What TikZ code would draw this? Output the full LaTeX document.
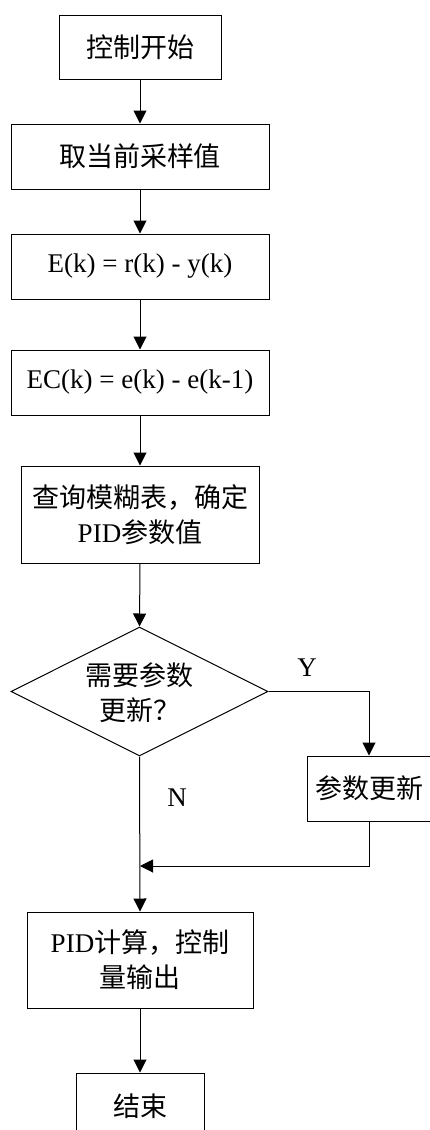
\documentclass[tikz,border=0pt]{standalone}
\usepackage{fontspec}
\setmainfont{Liberation Serif}
\newfontfamily\cjk{Noto Sans CJK SC}
\usetikzlibrary{arrows.meta,shapes.geometric}
\begin{document}
\begin{tikzpicture}[x=1pt,y=-1pt,
  txt/.style={font=\fontsize{27pt}{35pt}\selectfont, align=center, inner sep=0pt},
  box/.style={txt, draw, line width=1pt, rectangle},
  dec/.style={draw, line width=1pt, diamond, inner sep=0pt, minimum width=257pt, minimum height=129pt},
  arr/.style={line width=1pt, -{Triangle[width=13pt,length=13pt]}},
  ln/.style={line width=1pt}]
\useasboundingbox (0,0) rectangle (430,1130);
\node[box, minimum width=162pt, minimum height=64pt] (b1) at (140,47) {{\cjk 控制开始}};
\node[box, minimum width=258pt, minimum height=65pt] (b2) at (140,156.5) {{\cjk 取当前采样值}};
\node[box, minimum width=258pt, minimum height=65pt] (b3) at (140,266.5) {E(k) = r(k) - y(k)};
\node[box, minimum width=258pt, minimum height=65pt] (b4) at (140,382.5) {EC(k) = e(k) - e(k-1)};
\node[box, minimum width=238pt, minimum height=97pt] (b5) at (140,514.5) {{\cjk 查询模糊表，确定}\\PID{\cjk 参数值}};
\node[dec] (d) at (139.5,691.5) {};
\node[txt] (dt) at (139.5,693) {{\cjk 需要参数}\\{\cjk 更新？}};
\node[box, minimum width=124pt, minimum height=65pt] (up) at (369,788.5) {{\cjk 参数更新}};
\node[box, minimum width=226pt, minimum height=96pt] (pid) at (140,960) {PID{\cjk 计算，控制}\\{\cjk 量输出}};
\node[box, minimum width=128pt, minimum height=66pt] (end) at (140,1106) {{\cjk 结束}};
\node[txt] (y) at (307,668) {Y};
\node[txt] (n) at (177,798) {N};
\coordinate (j) at (140,866);
\draw[arr] (b1) -- (b2);
\draw[arr] (b2) -- (b3);
\draw[arr] (b3) -- (b4);
\draw[arr] (b4) -- (b5);
\draw[arr] (b5.south) -- (d.north);
\draw[arr] (d.east) -| (up.north);
\draw[arr] (up.south) |- (j);
\draw[arr] (d.south) -- (pid.north);
\draw[arr] (pid) -- (end);
\end{tikzpicture}
\end{document}
